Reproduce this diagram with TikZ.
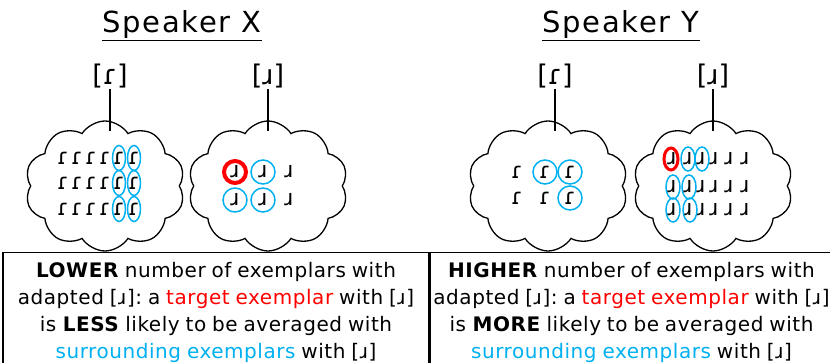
\documentclass[tikz,border=0pt]{standalone}
\usepackage{fontspec}
\setmainfont{DejaVu Sans}
\newfontfamily\notefont{DejaVu Sans}[LetterSpace=2.8, WordSpace=0.85]
\usetikzlibrary{shapes.symbols}
\definecolor{exblue}{HTML}{00B0F0}
\definecolor{exred}{HTML}{FF0000}
\frenchspacing

\begin{document}
\begin{tikzpicture}[x=1pt, y=-1pt,
    title/.style={font=\fontsize{29}{32}\selectfont\addfontfeatures{LetterSpace=6}},
    phone/.style={font=\fontsize{27}{30}\selectfont, inner sep=1pt},
    memory/.style={cloud, draw, cloud puffs=10, cloud puff arc=115, aspect=1.25,
        minimum width=160pt, minimum height=130pt, line width=1.3pt},
    ex/.style={font=\fontsize{22}{24}\selectfont, inner sep=0pt},
    near/.style={draw=exblue, line width=1.5pt},
    target/.style={draw=exred},
    caption/.style={draw, line width=1.5pt, anchor=north, minimum height=120pt,
        align=center, font=\notefont\fontsize{20}{27}\selectfont}
    ]

        \useasboundingbox (0,0) rectangle (830,363);
        \clip (0,0) rectangle (830,363);

        % Speaker titles
        \node[title, anchor=base] (titleX) at (182,33) {\underline{Speaker X}};
        \node[title, anchor=base] (titleY) at (621,33) {\underline{Speaker Y}};

        % Phone labels
        \node[phone] (tapX) at (110,76) {[ɾ]};
        \node[phone] (apprX) at (268,76) {[ɹ]};
        \node[phone] (tapY) at (555,76) {[ɾ]};
        \node[phone] (apprY) at (713,76) {[ɹ]};

        % Exemplar clouds
        \node[memory] (cloudA) at (105,186) {};
        \node[memory] (cloudB) at (268,186) {};
        \node[memory] (cloudC) at (548,186) {};
        \node[memory] (cloudD) at (713,186) {};

        % Lines from labels to clouds
        \coordinate (topA) at (110,131);
        \coordinate (topB) at (268,131);
        \coordinate (topC) at (555,131);
        \coordinate (topD) at (713,131);
        \draw[line width=1.2pt] (tapX.south) -- (topA);
        \draw[line width=1.2pt] (apprX.south) -- (topB);
        \draw[line width=1.2pt] (tapY.south) -- (topC);
        \draw[line width=1.2pt] (apprY.south) -- (topD);

        % Speaker X: [r] exemplars
        \foreach \y in {158,183,209}
            \foreach \x in {63,77,91,105,119,134}
                \node[ex] at (\x,\y) {ɾ};
        \foreach \y in {158,183,209}
            \foreach \x in {119,134}
                \draw[near] (\x,\y) ellipse (6.5 and 12.5);

        % Speaker X: [R] exemplars
        \foreach \y in {172,200}
            \foreach \x in {235,263,289}
                \node[ex] at (\x,\y) {ɹ};
        \draw[target, line width=4pt] (235,172) circle (11);
        \foreach \x/\y in {263/172,235/200,263/200}
            \draw[near] (\x,\y) circle (12);

        % Speaker Y: [r] exemplars
        \foreach \y in {172,198}
            \foreach \x in {517,545,570}
                \node[ex] at (\x,\y) {ɾ};
        \foreach \x/\y in {545/172,570/172,570/198}
            \draw[near] (\x,\y) circle (12);

        % Speaker Y: [R] exemplars
        \foreach \y in {159,187,210}
            \foreach \x in {672,688,701,714,729,745}
                \node[ex] at (\x,\y) {ɹ};
        \draw[target, line width=3pt] (671,159) ellipse (7 and 11);
        \foreach \x/\y in {688/159,702/159,673/187,689/187,673/210,690/210}
            \draw[near] (\x,\y) ellipse (7 and 12);

        % Explanation boxes
        \node[caption, minimum width=426pt] (noteX) at (216,252)
            {\textbf{LOWER} number of exemplars with\\
             adapted [ɹ]: a \textcolor{exred}{target exemplar} with [ɹ]\\
             is \textbf{LESS} likely to be averaged with\\
             \textcolor{exblue}{surrounding exemplars} with [ɹ]};
        \node[caption, minimum width=393pt] (noteY) at (631.5,252)
            {\textbf{HIGHER} number of exemplars with\\
             adapted [ɹ]: a \textcolor{exred}{target exemplar} with [ɹ]\\
             is \textbf{MORE} likely to be averaged with\\
             \textcolor{exblue}{surrounding exemplars} with [ɹ]};

\end{tikzpicture}
\end{document}
